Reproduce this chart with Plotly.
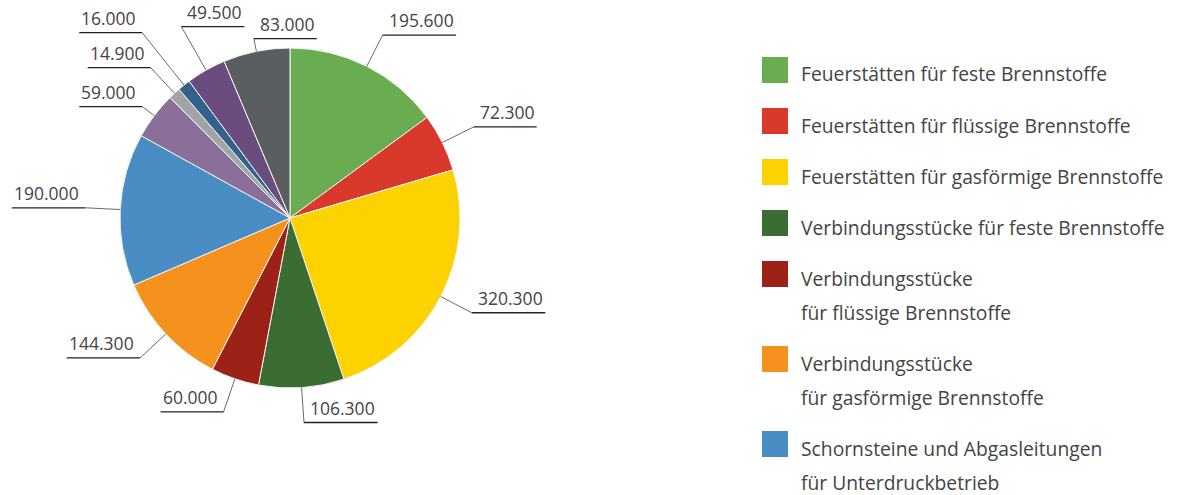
import math
import plotly.graph_objects as go

# ---- data ----
categories = [
    "Feuerstätten für feste Brennstoffe",
    "Feuerstätten für flüssige Brennstoffe",
    "Feuerstätten für gasförmige Brennstoffe",
    "Verbindungsstücke für feste Brennstoffe",
    "Verbindungsstücke für flüssige Brennstoffe",
    "Verbindungsstücke für gasförmige Brennstoffe",
    "Schornsteine und Abgasleitungen für Unterdruckbetrieb",
    "Schornsteine und Abgasleitungen für Überdruckbetrieb",
    "Luft-Abgas-Systeme",
    "Abgasanlagen für Blockheizkraftwerke",
    "Lüftungsanlagen",
    "Sonstige Anlagen",
]
values = [195.6, 72.3, 320.3, 106.3, 60.0, 144.3, 190.0, 59.0, 14.9, 16.0, 49.5, 83.0]
value_labels = ["195.600", "72.300", "320.300", "106.300", "60.000", "144.300",
                "190.000", "59.000", "14.900", "16.000", "49.500", "83.000"]
colors = ["#6aac50", "#d9392a", "#fdd201", "#3b6c31", "#9c2218", "#f5921e",
          "#4a8cc4", "#8a7099", "#a0a4a5", "#33618d", "#6a4c7e", "#5a5e60"]
# legend rows as displayed (visible portion)
legend_lines = [
    ["Feuerstätten für feste Brennstoffe"],
    ["Feuerstätten für flüssige Brennstoffe"],
    ["Feuerstätten für gasförmige Brennstoffe"],
    ["Verbindungsstücke für feste Brennstoffe"],
    ["Verbindungsstücke", "für flüssige Brennstoffe"],
    ["Verbindungsstücke", "für gasförmige Brennstoffe"],
    ["Schornsteine und Abgasleitungen", "für Unterdruckbetrieb"],
]

# ---- layout params ----
W, H = 1182, 495
cx, cy, R = 290, 218, 170
label_radius = [205, 205, 205, 205, 205, 205, 205, 185, 205, 237, 220, 183]
label_dir = [1, 1, 1, 1, -1, -1, -1, -1, -1, -1, 1, 1]
TXT = "#444444"
FONT = "Open Sans"


def fx(x):
    return x / W


def fy(y):
    return 1 - y / H


fig = go.Figure()
fig.add_trace(go.Pie(
    labels=categories, values=values, sort=False, direction="clockwise",
    rotation=0, marker=dict(colors=colors, line=dict(color="#f4f4f4", width=1)),
    textinfo="none", showlegend=False,
    domain=dict(x=[fx(cx - R), fx(cx + R)], y=[fy(cy + R), fy(cy - R)]),
    hovertemplate="%{label}: %{value}<extra></extra>",
))

shapes = []
annotations = []
total = sum(values)
cum = 0.0
for i, v in enumerate(values):
    mid = (cum + v / 2) / total * 2 * math.pi
    cum += v
    sx, sy = math.sin(mid), -math.cos(mid)
    ex, ey = cx + R * sx, cy + R * sy
    rr = label_radius[i]
    bx, by = cx + rr * sx, cy + rr * sy
    L = 10.5 * len(value_labels[i])
    d = label_dir[i]
    endx = bx + d * L
    shapes.append(dict(type="line", xref="paper", yref="paper",
                       x0=fx(ex), y0=fy(ey), x1=fx(bx), y1=fy(by),
                       line=dict(color="#6a6a6a", width=1)))
    shapes.append(dict(type="line", xref="paper", yref="paper",
                       x0=fx(bx), y0=fy(by), x1=fx(endx), y1=fy(by),
                       line=dict(color="#222222", width=1.3)))
    annotations.append(dict(
        xref="paper", yref="paper", x=fx(endx), y=fy(by - 1),
        xanchor="right" if d > 0 else "left", yanchor="bottom",
        text=value_labels[i], showarrow=False,
        font=dict(family=FONT, size=17.5, color=TXT)))

# manual legend
lx, sq = 762, 26
ytop = 57
for i, lines in enumerate(legend_lines):
    shapes.append(dict(type="rect", xref="paper", yref="paper",
                       x0=fx(lx), x1=fx(lx + sq), y0=fy(ytop), y1=fy(ytop + sq),
                       fillcolor=colors[i], line=dict(width=0)))
    for j, t in enumerate(lines):
        annotations.append(dict(
            xref="paper", yref="paper", x=fx(799), y=fy(ytop + 17 + 34 * j),
            xanchor="left", yanchor="middle", text=t, showarrow=False,
            font=dict(family=FONT, size=19.3, color=TXT)))
    ytop += 51 if len(lines) == 1 else 85

fig.update_layout(
    width=W, height=H, margin=dict(l=0, r=0, t=0, b=0),
    paper_bgcolor="white", plot_bgcolor="white",
    shapes=shapes, annotations=annotations,
)
fig.write_html("out.html", config={"displayModeBar": False},
               post_script="document.body.style.margin='0';document.body.style.overflow='hidden';")
